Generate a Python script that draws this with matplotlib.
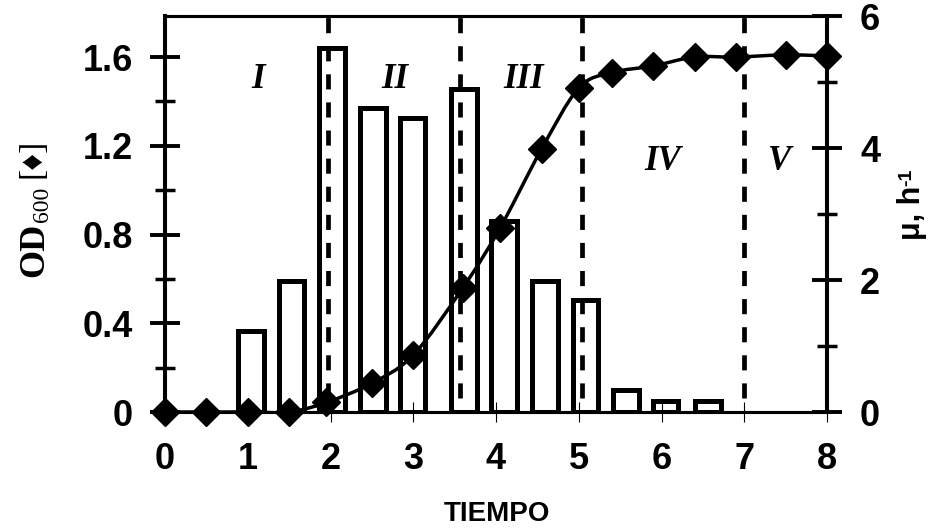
import numpy as np
import matplotlib
matplotlib.use("Agg")
import matplotlib.pyplot as plt
from matplotlib.path import Path
from matplotlib.patches import PathPatch

plt.rcParams['font.family'] = ['Liberation Sans', 'DejaVu Sans']
plt.rcParams['font.weight'] = 'bold'

# OD600 growth curve (left axis)
time_od = [0, 0.5, 1.0, 1.5, 1.95, 2.5, 3.0, 3.6, 4.05, 4.55, 5.0, 5.4, 5.9, 6.4, 6.9, 7.5, 8.0]
od600 = [0, 0, 0, 0, 0.043, 0.13, 0.257, 0.56, 0.83, 1.185, 1.46, 1.53, 1.56, 1.60, 1.60, 1.61, 1.605]

# specific growth rate bars (right axis)
time_mu = [1.04, 1.53, 2.02, 2.51, 2.99, 3.61, 4.10, 4.59, 5.08, 5.57, 6.05, 6.56]
mu = [1.23, 1.99, 5.52, 4.60, 4.45, 4.90, 2.90, 1.99, 1.70, 0.33, 0.17, 0.17]

# phase boundaries and labels
phase_bounds = [1.97, 3.57, 5.04, 7.0]
phase_names = ['I', 'II', 'III', 'IV', 'V']
phase_x = [1.12, 2.78, 4.33, 6.02, 7.43]
phase_y = [1.46, 1.46, 1.46, 1.09, 1.09]

x_ticks = [0, 1, 2, 3, 4, 5, 6, 7, 8]
od_ticks = [0, 0.4, 0.8, 1.2, 1.6]
od_labels = ['0', '0.4', '0.8', '1.2', '1.6']
od_minor = [0.2, 0.6, 1.0, 1.4]
mu_ticks = [0, 2, 4, 6]
mu_minor = [1, 3, 5]

W, H = 932, 529


def fx(px):
    return px / W


def fy(py):
    return 1 - py / H


def smooth_path(xs, ys):
    # Excel-like smoothed line: cubic Bezier segments through every point
    pts = np.column_stack([xs, ys])
    ext = np.vstack([pts[0], pts, pts[-1]])
    verts = [pts[0]]
    codes = [Path.MOVETO]
    for i in range(len(pts) - 1):
        p0, p1, p2, p3 = ext[i], ext[i + 1], ext[i + 2], ext[i + 3]
        verts += [p1 + (p2 - p0) / 6, p2 - (p3 - p1) / 6, p2]
        codes += [Path.CURVE4] * 3
    return Path(verts, codes)


fig = plt.figure(figsize=(9.32, 5.29), dpi=100)
ax = fig.add_axes([fx(165), fy(412), fx(827) - fx(165), fy(16) - fy(412)])
ax2 = ax.twinx()
ax.set_zorder(ax2.get_zorder() + 1)
ax.patch.set_visible(False)

# bars on right axis
ax2.bar(time_mu, mu, width=0.31, facecolor='white', edgecolor='black', linewidth=3.6)
ax2.set_ylim(0, 6)
ax2.set_yticks(mu_ticks)
ax2.set_yticks(mu_minor, minor=True)

# phase separators
for xb in phase_bounds:
    ax.axvline(xb, ymin=0.035, ymax=1, color='black', linewidth=3.4,
               linestyle=(0, (3.2, 2.75)))

for name, px, py in zip(phase_names, phase_x, phase_y):
    ax.text(px, py, name, ha='center', va='baseline', fontsize=25,
            family='Liberation Serif', style='italic', weight='bold')

# OD curve
ax.add_patch(PathPatch(smooth_path(time_od, od600), fill=False,
                       edgecolor='black', linewidth=2.5, zorder=3))
ax.plot(time_od, od600, linestyle='none', marker='D', markersize=14,
        color='black', clip_on=False, zorder=4)

ax.set_xlim(0, 8)
ax.set_ylim(0, 1.785)
ax.set_xticks(x_ticks)
ax.set_yticks(od_ticks)
ax.set_yticklabels(od_labels)
ax.set_yticks(od_minor, minor=True)

ax.tick_params(axis='y', which='major', direction='inout', length=21, width=2.8,
               pad=12.6, labelsize=26)
ax.tick_params(axis='y', which='minor', direction='inout', length=14.4, width=2.5)
ax.tick_params(axis='x', direction='inout', length=15, width=0.8, pad=14, labelsize=26)
ax2.tick_params(axis='y', which='major', direction='inout', length=21, width=2.8,
                pad=13.3, labelsize=26)
ax2.tick_params(axis='y', which='minor', direction='inout', length=14.4, width=2.5)

for a in (ax, ax2):
    a.spines['left'].set_linewidth(2.9)
    a.spines['right'].set_linewidth(2.9)
    a.spines['top'].set_linewidth(2.2)
    a.spines['bottom'].set_linewidth(2.2)

# axis titles
fig.text(fx(497), fy(521), 'TIEMPO', ha='center', va='baseline', fontsize=20)

kw = dict(rotation=90, rotation_mode='anchor', ha='left', va='baseline')
fig.text(fx(43), fy(277), 'OD', fontsize=26, family='Liberation Serif',
         weight='bold', **kw)
fig.text(fx(48), fy(222), '600', fontsize=17, family='Liberation Serif',
         weight='normal', **kw)
fig.text(fx(40), fy(178), '[\u2666]', fontsize=24,
         family=['Liberation Serif', 'DejaVu Sans'], weight='normal', **kw)

fig.text(fx(920), fy(240), '\u03bc, h', fontsize=22, **kw)
fig.text(fx(911), fy(186), '-1', fontsize=14, **kw)

fig.savefig('out.png', dpi=100)
